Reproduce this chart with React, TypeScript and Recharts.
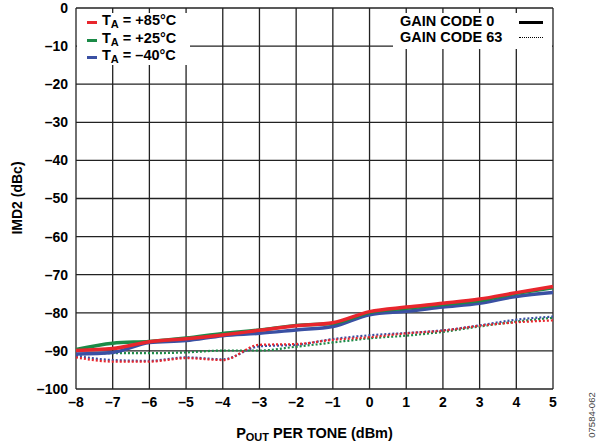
import { LineChart, Line, XAxis, YAxis, CartesianGrid } from "recharts";

const pout = [-8, -7, -6, -5, -4, -3, -2, -1, 0, 1, 2, 3, 4, 5];

// gain code 0 (solid)
const red0 = [-89.9, -89.4, -87.6, -86.8, -85.8, -84.6, -83.4, -82.6, -79.7, -78.5, -77.5, -76.4, -74.7, -73.1];
const green0 = [-89.6, -88.0, -87.5, -86.6, -85.4, -84.5, -83.3, -82.8, -79.9, -78.8, -77.8, -76.8, -74.9, -73.4];
const blue0 = [-90.8, -90.4, -87.8, -87.3, -86.0, -85.4, -84.5, -83.6, -80.5, -79.6, -78.5, -77.5, -75.7, -74.7];

// gain code 63 (dotted)
const red63 = [-91.7, -92.8, -92.8, -91.9, -92.4, -88.4, -88.2, -87.1, -86.4, -85.4, -84.7, -83.4, -82.5, -82.0];
const green63 = [-91.0, -90.6, -90.6, -90.4, -89.9, -89.9, -88.9, -87.8, -86.7, -86.0, -85.0, -83.6, -82.3, -81.3];
const blue63 = [-91.3, -92.4, -92.6, -91.7, -92.2, -88.8, -88.4, -86.9, -85.9, -85.3, -84.6, -83.3, -81.8, -81.0];

const xTicks = pout;
const yTicks = [0, -10, -20, -30, -40, -50, -60, -70, -80, -90, -100];

const data = pout.map((x, i) => ({
  x,
  red0: red0[i],
  green0: green0[i],
  blue0: blue0[i],
  red63: red63[i],
  green63: green63[i],
  blue63: blue63[i],
}));

const RED = "#e8262d";
const GREEN = "#1b8a47";
const BLUE = "#3a50a3";
const FONT = '"Liberation Sans", Arial, Helvetica, sans-serif';

const fmt = (v: number) => (v < 0 ? "\u2013" + Math.abs(v) : String(v));

const tickStyle = { fill: "#000", fontSize: 14, fontWeight: 700, fontFamily: FONT };

export default function App() {
  const txt: React.CSSProperties = {
    position: "absolute",
    fontFamily: FONT,
    fontWeight: 700,
    fontSize: 14.5,
    color: "#000",
    whiteSpace: "nowrap",
    lineHeight: "15px",
  };
  const row = (y: number, color: string, label: string) => (
    <>
      <div style={{ position: "absolute", left: 87, top: y - 1.5, width: 10, height: 3, background: color }} />
      <div style={{ ...txt, left: 102, top: y - 9 }}>
        T<sub style={{ fontSize: 11, verticalAlign: "-3px" }}>A</sub> = {label}
      </div>
    </>
  );
  return (
    <div style={{ position: "absolute", left: 0, top: 0, width: 602, height: 448, background: "#fff" }}>
      <LineChart
        width={602}
        height={448}
        data={data}
        margin={{ top: 8, right: 49, bottom: 29, left: 16 }}
      >
        <CartesianGrid stroke="#222" strokeWidth={1.3} />
        <XAxis
          dataKey="x"
          type="number"
          domain={[-8, 5]}
          ticks={xTicks}
          tickFormatter={fmt}
          axisLine={false}
          tickLine={false}
          tick={tickStyle}
          height={30}
          tickMargin={2}
        />
        <YAxis
          type="number"
          domain={[-100, 0]}
          ticks={yTicks}
          tickFormatter={fmt}
          axisLine={false}
          tickLine={false}
          tick={tickStyle}
          width={60}
          tickMargin={2}
        />
        <Line type="monotone" dataKey="green63" stroke={GREEN} strokeWidth={2.2} strokeDasharray="2 2" dot={false} isAnimationActive={false} />
        <Line type="monotone" dataKey="blue63" stroke={BLUE} strokeWidth={2.2} strokeDasharray="2 2" dot={false} isAnimationActive={false} />
        <Line type="monotone" dataKey="red63" stroke={RED} strokeWidth={2.2} strokeDasharray="2 2" dot={false} isAnimationActive={false} />
        <Line type="monotone" dataKey="blue0" stroke={BLUE} strokeWidth={3.5} dot={false} isAnimationActive={false} />
        <Line type="monotone" dataKey="green0" stroke={GREEN} strokeWidth={3.5} dot={false} isAnimationActive={false} />
        <Line type="monotone" dataKey="red0" stroke={RED} strokeWidth={3.5} dot={false} isAnimationActive={false} />
      </LineChart>

      {/* temperature legend */}
      <div style={{ position: "absolute", left: 77, top: 13, width: 113, height: 52, background: "#fff" }} />
      {row(22, RED, "+85\u00b0C")}
      {row(40, GREEN, "+25\u00b0C")}
      {row(57, BLUE, "\u201340\u00b0C")}

      {/* gain code legend */}
      <div style={{ position: "absolute", left: 393, top: 13, width: 159, height: 36, background: "#fff" }} />
      <div style={{ ...txt, left: 400, top: 14 }}>GAIN CODE 0</div>
      <div style={{ ...txt, left: 400, top: 30 }}>GAIN CODE 63</div>
      <div style={{ position: "absolute", left: 519, top: 20.5, width: 24, height: 3, background: "#000" }} />
      <div style={{ position: "absolute", left: 519, top: 37, width: 24, height: 0, borderTop: "1.5px dotted #000" }} />

      {/* axis titles */}
      <div style={{ ...txt, left: 0, width: 629, top: 426, textAlign: "center" }}>
        P<sub style={{ fontSize: 11, verticalAlign: "-3px" }}>OUT</sub> PER TONE (dBm)
      </div>
      <div
        style={{
          ...txt,
          fontSize: 14,
          left: 17,
          top: 198,
          transform: "translate(-50%, -50%) rotate(-90deg)",
        }}
      >
        IMD2 (dBc)
      </div>
      <div
        style={{
          ...txt,
          fontWeight: 400,
          fontSize: 9.5,
          color: "#444",
          left: 591,
          top: 415,
          transform: "translate(-50%, -50%) rotate(-90deg)",
        }}
      >
        07584-062
      </div>
    </div>
  );
}
